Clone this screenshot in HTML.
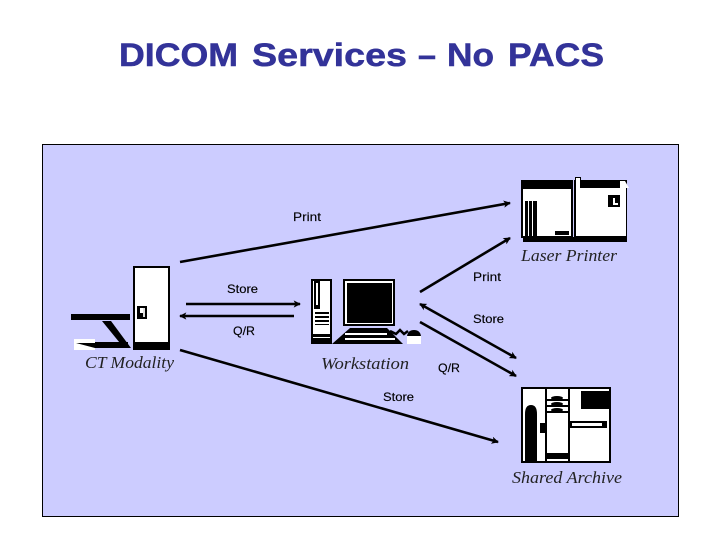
<!DOCTYPE html>
<html>
<head>
<meta charset="utf-8">
<style>
html,body{margin:0;padding:0;background:#fff}
svg{display:block}
.t{font-family:"Liberation Sans",sans-serif;font-size:12px;fill:#000;stroke:#000;stroke-width:.15}
.s{font-family:"Liberation Serif",serif;font-style:italic;font-size:17px;fill:#222}
.h{font-family:"Liberation Sans",sans-serif;font-weight:bold;font-size:32px;fill:#333399;stroke:#333399;stroke-width:.5}
</style>
</head>
<body>
<svg width="720" height="540" viewBox="0 0 720 540" xmlns="http://www.w3.org/2000/svg">
<defs>
<marker id="a" viewBox="0 0 8 8" refX="7" refY="4" markerWidth="2.8" markerHeight="2.8" orient="auto-start-reverse"><path d="M0 0L8 4L0 8L2 4Z" fill="#000"/></marker>
</defs>
<text class="h" x="119" y="66" textLength="119" lengthAdjust="spacingAndGlyphs">DICOM</text>
<text class="h" x="252" y="66" textLength="155" lengthAdjust="spacingAndGlyphs">Services</text>
<text class="h" x="418" y="66" textLength="18" lengthAdjust="spacingAndGlyphs">–</text>
<text class="h" x="447" y="66" textLength="47" lengthAdjust="spacingAndGlyphs">No</text>
<text class="h" x="508" y="66" textLength="96" lengthAdjust="spacingAndGlyphs">PACS</text>
<rect x="42.5" y="144.5" width="636" height="372" fill="#ccccff" stroke="#000"/>

<!-- connectors -->
<g stroke="#000" stroke-width="2.6" fill="none">
<line x1="180" y1="262" x2="510" y2="203" marker-end="url(#a)"/>
<line x1="186" y1="304" x2="300" y2="304" marker-end="url(#a)"/>
<line x1="294" y1="316" x2="180" y2="316" marker-end="url(#a)"/>
<line x1="420" y1="292" x2="510" y2="238" marker-end="url(#a)"/>
<line x1="420" y1="304" x2="516" y2="358" marker-start="url(#a)" marker-end="url(#a)"/>
<line x1="420" y1="322" x2="516" y2="376" marker-end="url(#a)"/>
<line x1="180" y1="350" x2="498" y2="442" marker-end="url(#a)"/>
</g>

<!-- CT -->
<g>
<rect x="133" y="266" width="37" height="84" fill="#000"/>
<rect x="135" y="268" width="33" height="74" fill="#fff"/>
<rect x="137" y="306" width="10" height="13" fill="#000"/>
<rect x="140" y="308" width="3" height="5" fill="#fff"/><rect x="143" y="308" width="2" height="9" fill="#ddd"/>
<rect x="71" y="314" width="59" height="6" fill="#000"/>
<polygon points="102,321 111,321 131,348 124,348" fill="#000"/>
<rect x="75" y="342" width="53" height="6" fill="#000"/>
<polygon points="74,339 95,339 95,343 76,343 95,348 95,350 74,350" fill="#fff"/>
</g>

<!-- Workstation -->
<g>
<rect x="311" y="279" width="21" height="65" fill="#000"/>
<rect x="313" y="281" width="17" height="57" fill="#fff"/>
<rect x="314" y="281" width="6" height="28" fill="#000"/>
<rect x="316" y="283" width="2" height="22" fill="#fff"/>
<rect x="315" y="312" width="14" height="2" fill="#000"/>
<rect x="315" y="316" width="14" height="2" fill="#000"/>
<rect x="315" y="320" width="14" height="2" fill="#000"/>
<rect x="315" y="324" width="14" height="1" fill="#000"/>
<rect x="313" y="334" width="17" height="3" fill="#000"/>
<rect x="343" y="279" width="52" height="47" fill="#000"/>
<rect x="345" y="281" width="48" height="43" fill="#fff"/>
<rect x="347" y="283" width="45" height="40" fill="#000"/>
<polygon points="350,328 387,328 403,344 332,344" fill="#000"/>
<rect x="345" y="333" width="42" height="2" fill="#fff"/>
<rect x="345" y="338" width="50" height="2" fill="#fff"/>
<path d="M390 331L396 334L400 330L404 334L408 331" stroke="#000" stroke-width="2.5" fill="none"/>
<path d="M407 336Q408 330 414 330Q420 330 421 336Z" fill="#000"/>
<rect x="407" y="336" width="14" height="8" fill="#fff"/>
</g>

<!-- Printer -->
<g>
<rect x="523" y="237" width="104" height="5" fill="#000"/>
<rect x="521" y="180" width="52" height="58" fill="#000"/>
<rect x="523" y="189" width="48" height="47" fill="#fff"/>
<rect x="525" y="201" width="3" height="35" fill="#000"/>
<rect x="529" y="201" width="3" height="35" fill="#000"/>
<rect x="533" y="201" width="4" height="35" fill="#000"/>
<rect x="555" y="231" width="14" height="4" fill="#000"/>
<rect x="574" y="180" width="53" height="58" fill="#000"/>
<rect x="576" y="188" width="50" height="48" fill="#fff"/>
<rect x="575" y="177" width="6" height="11" fill="#000"/>
<rect x="576" y="178" width="4" height="10" fill="#fff"/>
<polygon points="620,181 625,181 629,188 620,188" fill="#fff"/>
<rect x="608" y="195" width="12" height="12" fill="#000"/>
<rect x="613" y="198" width="2" height="7" fill="#fff"/><rect x="613" y="203" width="5" height="2" fill="#fff"/>
</g>

<!-- Archive -->
<g>
<rect x="521" y="387" width="90" height="76" fill="#000"/>
<rect x="523" y="389" width="86" height="72" fill="#fff"/>
<path d="M525 461V414Q525 405 531 405Q537 405 537 414V461Z" fill="#000"/>
<rect x="540" y="423" width="6" height="10" fill="#000"/>
<rect x="545" y="388" width="2" height="74" fill="#000"/>
<rect x="568" y="388" width="2" height="74" fill="#000"/>
<rect x="547" y="453" width="21" height="6" fill="#000"/>
<rect x="547" y="399" width="21" height="2" fill="#000"/>
<rect x="547" y="405" width="21" height="2" fill="#000"/>
<rect x="547" y="411" width="21" height="2" fill="#000"/>
<ellipse cx="557" cy="398" rx="6" ry="2" fill="#000"/>
<ellipse cx="557" cy="404" rx="6" ry="2" fill="#000"/>
<ellipse cx="557" cy="410" rx="6" ry="2" fill="#000"/>
<rect x="581" y="391" width="29" height="18" fill="#000"/>
<rect x="570" y="421" width="37" height="7" fill="#000"/>
<rect x="572" y="423" width="30" height="3" fill="#fff"/>
</g>

<!-- labels -->
<text class="t" x="293" y="221" textLength="28" lengthAdjust="spacingAndGlyphs">Print</text>
<text class="t" x="473" y="281" textLength="28" lengthAdjust="spacingAndGlyphs">Print</text>
<text class="t" x="227" y="293" textLength="31" lengthAdjust="spacingAndGlyphs">Store</text>
<text class="t" x="473" y="323" textLength="31" lengthAdjust="spacingAndGlyphs">Store</text>
<text class="t" x="233" y="335" textLength="22" lengthAdjust="spacingAndGlyphs">Q/R</text>
<text class="t" x="438" y="372" textLength="22" lengthAdjust="spacingAndGlyphs">Q/R</text>
<text class="t" x="383" y="401" textLength="31" lengthAdjust="spacingAndGlyphs">Store</text>
<text class="s" x="521" y="261" textLength="96" lengthAdjust="spacingAndGlyphs">Laser Printer</text>
<text class="s" x="85" y="368" textLength="89" lengthAdjust="spacingAndGlyphs">CT Modality</text>
<text class="s" x="321" y="369" textLength="88" lengthAdjust="spacingAndGlyphs">Workstation</text>
<text class="s" x="512" y="483" textLength="110" lengthAdjust="spacingAndGlyphs">Shared Archive</text>
</svg>
</body>
</html>
